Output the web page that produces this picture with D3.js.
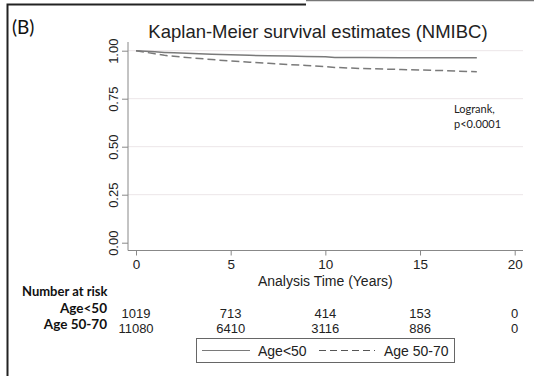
<!DOCTYPE html>
<html>
<head>
<meta charset="utf-8">
<script src="https://cdn.jsdelivr.net/npm/d3@7"></script>
<style>
  html, body { margin: 0; padding: 0; background: #fff; }
  svg { display: block; }
</style>
</head>
<body>
<div id="chart"></div>
<script>
// survival estimates
const years = [0, 0.5, 1, 1.5, 2, 3, 4, 5, 6, 7, 8, 9, 10, 10.5, 12, 14, 16, 18];
const survUnder50 = [1, 0.997, 0.994, 0.991, 0.989, 0.985, 0.982, 0.979, 0.976, 0.974, 0.972, 0.97, 0.968, 0.964, 0.964, 0.963, 0.963, 0.963];
const surv50to70 = [1, 0.992, 0.984, 0.976, 0.971, 0.962, 0.954, 0.946, 0.94, 0.934, 0.928, 0.923, 0.917, 0.913, 0.907, 0.902, 0.897, 0.89];

const groups = ['Age<50', 'Age 50-70'];
const xTicks = [0, 5, 10, 15, 20];
const yTicks = [0, 0.25, 0.5, 0.75, 1];
const atRiskUnder50 = [1019, 713, 414, 153, 0];
const atRisk50to70 = [11080, 6410, 3116, 886, 0];

const W = 534, H = 376;
const svg = d3.select('#chart').append('svg').attr('width', W).attr('height', H);

const arial = 'Liberation Sans, Arial, sans-serif';
const calibri = 'Lato, Open Sans, sans-serif';

// outer frame
svg.append('path').attr('d', 'M7.5,376 V4.5 H306').attr('fill', 'none').attr('stroke', '#222').attr('stroke-width', 2);
svg.append('line').attr('x1', 306).attr('x2', 534).attr('y1', 0.5).attr('y2', 0.5).attr('stroke', '#777').attr('stroke-width', 1.5);

svg.append('text').attr('x', 12).attr('y', 34).text('(B)')
  .style('font-family', calibri).style('font-size', '19px').attr('fill', '#111');

svg.append('text').attr('x', 318).attr('y', 38).attr('text-anchor', 'middle')
  .text('Kaplan-Meier survival estimates (NMIBC)')
  .style('font-family', arial).style('font-size', '18.5px').attr('fill', '#222');

const x = d3.scaleLinear().domain([0, 20]).range([136, 514.7]);
const y = d3.scaleLinear().domain([0, 1]).range([242.7, 50.7]);
const plotL = 128, plotR = 523, plotB = 250.5;

// gridlines
svg.append('g').selectAll('line').data(yTicks.filter(d => d > 0)).join('line')
  .attr('x1', plotL).attr('x2', plotR).attr('y1', d => y(d)).attr('y2', d => y(d))
  .attr('stroke', '#ece6e8').attr('stroke-width', 1);

// y axis
const yAxis = svg.append('g').attr('transform', `translate(${plotL},0)`)
  .call(d3.axisLeft(y).tickValues(yTicks).tickFormat(d3.format('.2f')).tickSize(6).tickSizeOuter(0));
yAxis.select('.domain').attr('d', `M0,42V${plotB}`).attr('stroke', '#888');
yAxis.selectAll('.tick line').attr('stroke', '#888');
yAxis.selectAll('.tick text')
  .attr('transform', 'rotate(-90)').attr('x', 0).attr('y', -10).attr('dy', 0)
  .attr('text-anchor', 'middle')
  .style('font-family', arial).style('font-size', '13px').attr('fill', '#222');

// x axis
const xAxis = svg.append('g').attr('transform', `translate(0,${plotB})`)
  .call(d3.axisBottom(x).tickValues(xTicks).tickSize(5).tickSizeOuter(0));
xAxis.select('.domain').attr('d', `M${plotL},0H${plotR}`).attr('stroke', '#888');
xAxis.selectAll('.tick line').attr('stroke', '#888');
xAxis.selectAll('.tick text').attr('y', 18.5).attr('dy', 0)
  .style('font-family', arial).style('font-size', '13.5px').attr('fill', '#222');

svg.append('text').attr('x', x(10)).attr('y', 286).attr('text-anchor', 'middle')
  .text('Analysis Time (Years)')
  .style('font-family', arial).style('font-size', '14px').attr('fill', '#222');

// curves
const line = d3.line().x(d => x(d[0])).y(d => y(d[1]));
const series = [
  { name: groups[0], vals: survUnder50, dash: null },
  { name: groups[1], vals: surv50to70, dash: '8,4' },
];
series.forEach(s => {
  svg.append('path')
    .datum(years.map((t, i) => [t, s.vals[i]]))
    .attr('d', line)
    .attr('fill', 'none')
    .attr('stroke', '#7a7a7a')
    .attr('stroke-width', 1.5)
    .attr('stroke-dasharray', s.dash);
});

// logrank note
svg.append('text').attr('x', 454).attr('y', 113).text('Logrank,')
  .style('font-family', calibri).style('font-size', '11px').attr('fill', '#222');
svg.append('text').attr('x', 454).attr('y', 128).text('p<0.0001')
  .style('font-family', calibri).style('font-size', '11px').attr('fill', '#222');

// number at risk table
svg.append('text').attr('x', 22).attr('y', 296).text('Number at risk')
  .style('font-family', calibri).style('font-size', '13px').style('font-weight', 'bold').attr('fill', '#111');

const rows = [
  { label: groups[0], vals: atRiskUnder50, ly: 313, vy: 318 },
  { label: groups[1], vals: atRisk50to70, ly: 329, vy: 333 },
];
rows.forEach(r => {
  svg.append('text').attr('x', 107).attr('y', r.ly).attr('text-anchor', 'end').text(r.label)
    .style('font-family', calibri).style('font-size', '13.5px').style('font-weight', 'bold').attr('fill', '#111');
  svg.append('g').selectAll('text').data(r.vals).join('text')
    .attr('x', (d, i) => x(xTicks[i])).attr('y', r.vy).attr('text-anchor', 'middle')
    .text(d => d)
    .style('font-family', arial).style('font-size', '13px').attr('fill', '#222');
});

// legend
const leg = svg.append('g');
leg.append('rect').attr('x', 196.5).attr('y', 338.5).attr('width', 258).attr('height', 24)
  .attr('fill', '#fff').attr('stroke', '#666').attr('stroke-width', 1);
leg.append('line').attr('x1', 202).attr('x2', 250).attr('y1', 350.5).attr('y2', 350.5)
  .attr('stroke', '#7a7a7a').attr('stroke-width', 1.2);
leg.append('text').attr('x', 258).attr('y', 355.5).text(groups[0])
  .style('font-family', arial).style('font-size', '14px').attr('fill', '#222');
leg.append('line').attr('x1', 319).attr('x2', 375).attr('y1', 350.5).attr('y2', 350.5)
  .attr('stroke', '#555').attr('stroke-width', 1.2).attr('stroke-dasharray', '7,4');
leg.append('text').attr('x', 384).attr('y', 355.5).text(groups[1])
  .style('font-family', arial).style('font-size', '14px').attr('fill', '#222');
</script>
</body>
</html>
